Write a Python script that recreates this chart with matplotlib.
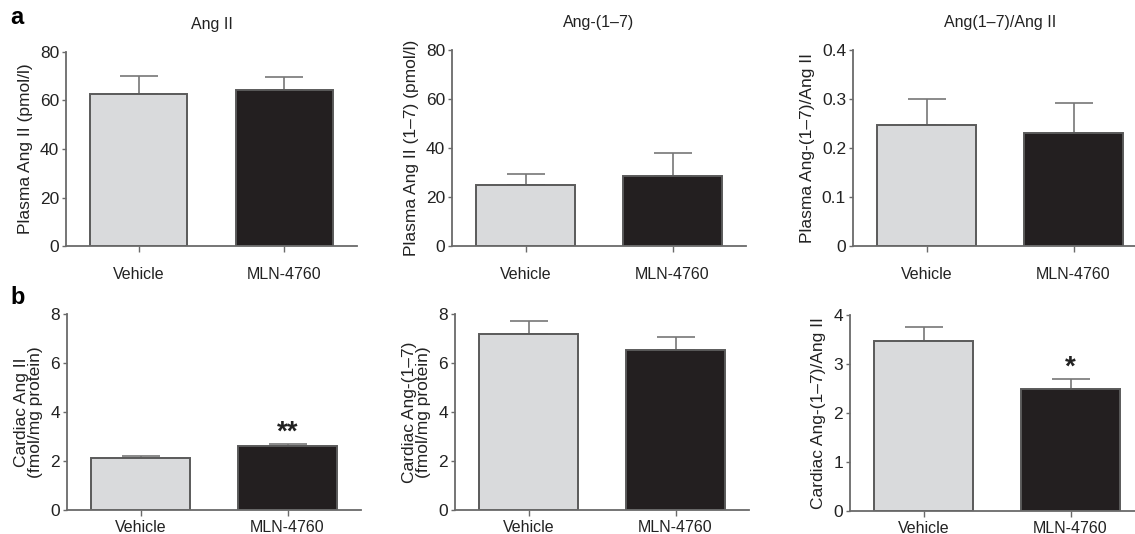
import matplotlib
matplotlib.use("Agg")
import matplotlib.pyplot as plt

plt.rcParams['font.family'] = ['Liberation Sans', 'DejaVu Sans']

groups = ["Vehicle", "MLN-4760"]

# row a: plasma
plasma_ang2 = [62.5, 64.5]
plasma_ang2_err = [7.5, 5.0]
plasma_ang17 = [24.8, 28.7]
plasma_ang17_err = [4.7, 9.3]
plasma_ratio = [0.247, 0.231]
plasma_ratio_err = [0.052, 0.060]

# row b: cardiac
cardiac_ang2 = [2.12, 2.62]
cardiac_ang2_err = [0.10, 0.08]
cardiac_ang17 = [7.2, 6.52]
cardiac_ang17_err = [0.5, 0.53]
cardiac_ratio = [3.47, 2.5]
cardiac_ratio_err = [0.28, 0.2]

titles = ["Ang II", "Ang-(1\u20137)", "Ang(1\u20137)/Ang II"]
ylabels_a = ["Plasma Ang II (pmol/l)", "Plasma Ang II (1\u20137) (pmol/l)",
             "Plasma Ang-(1\u20137)/Ang II"]
ylabels_b = ["Cardiac Ang II\n(fmol/mg protein)", "Cardiac Ang-(1\u20137)\n(fmol/mg protein)",
             "Cardiac Ang-(1\u20137)/Ang II"]
ylims_a = [80, 80, 0.4]
yticks_a = [[0, 20, 40, 60, 80], [0, 20, 40, 60, 80], [0, 0.1, 0.2, 0.3, 0.4]]
yticklabels_a = [["0", "20", "40", "60", "80"], ["0", "20", "40", "60", "80"],
                 ["0", "0.1", "0.2", "0.3", "0.4"]]
ylims_b = [8, 8, 4]
yticks_b = [[0, 2, 4, 6, 8], [0, 2, 4, 6, 8], [0, 1, 2, 3, 4]]
stars_b_mln = ["**", "", "*"]

bar_colors = ["#d9dadc", "#231f20"]
edge = "#5a5a5a"
axcol = "#6a6a6a"

W, H = 1135, 534
fig = plt.figure(figsize=(W / 100, H / 100), dpi=100)

# axes boxes in pixels: left, top(y of max), bottom(y of 0), px per bar unit
top_boxes = [(66, 52, 246, 145.5), (452, 50, 246, 147), (853, 50, 246, 147)]
bot_boxes = [(67, 314, 510, 147), (455, 314, 510, 147), (850, 315, 511, 147)]


def make_ax(box):
    left, ytop, ybot, unit = box
    w = 2 * unit
    return fig.add_axes([left / W, 1 - ybot / H, w / W, (ybot - ytop) / H])


def draw(ax, vals, errs, ymax, yticks, yticklabels, ylabel, pad):
    x = [0, 1]
    ax.bar(x, vals, width=0.67, color=bar_colors, edgecolor=edge, linewidth=1.4, zorder=2)
    ax.errorbar(x, vals, yerr=[[0, 0], errs], fmt="none", ecolor="#777777",
                elinewidth=1.2, capsize=14, capthick=1.2, zorder=1)
    ax.set_xlim(-0.5, 1.5)
    ax.set_ylim(0, ymax)
    ax.set_yticks(yticks)
    ax.set_yticklabels(yticklabels)
    ax.set_xticks(x)
    ax.set_xticklabels(groups)
    ax.set_ylabel(ylabel, fontsize=12.5, color="#222222", labelpad=5, linespacing=0.95)
    for s in ["top", "right"]:
        ax.spines[s].set_visible(False)
    for s in ["left", "bottom"]:
        ax.spines[s].set_color(axcol)
        ax.spines[s].set_linewidth(1.3)
    ax.tick_params(axis="y", length=3, width=1, color=axcol, labelsize=12.5, pad=2,
                   labelcolor="#222222")
    ax.tick_params(axis="x", length=4, width=1, color=axcol, labelsize=11.5, pad=pad,
                   labelcolor="#222222")
    ax.set_facecolor("none")


for i in range(3):
    ax = make_ax(top_boxes[i])
    vals = [plasma_ang2, plasma_ang17, plasma_ratio][i]
    errs = [plasma_ang2_err, plasma_ang17_err, plasma_ratio_err][i]
    draw(ax, vals, errs, ylims_a[i], yticks_a[i], yticklabels_a[i], ylabels_a[i], 11)
    ax.text(0.5, 1.14, titles[i], transform=ax.transAxes, ha="center", va="center",
            fontsize=11.5, color="#222222")

for i in range(3):
    ax = make_ax(bot_boxes[i])
    vals = [cardiac_ang2, cardiac_ang17, cardiac_ratio][i]
    errs = [cardiac_ang2_err, cardiac_ang17_err, cardiac_ratio_err][i]
    draw(ax, vals, errs, ylims_b[i], yticks_b[i], [str(t) for t in yticks_b[i]],
         ylabels_b[i], 3)
    if stars_b_mln[i]:
        ax.text(1, vals[1] + errs[1] - ylims_b[i] * 0.01, stars_b_mln[i], ha="center",
                va="bottom", fontsize=20, fontweight="bold", color="#222222")

fig.text(10 / W, 1 - 17 / H, "a", fontsize=17, fontweight="bold", va="center", ha="left")
fig.text(10 / W, 1 - 298 / H, "b", fontsize=17, fontweight="bold", va="center", ha="left")

fig.savefig("out.png", dpi=100, facecolor="white")
